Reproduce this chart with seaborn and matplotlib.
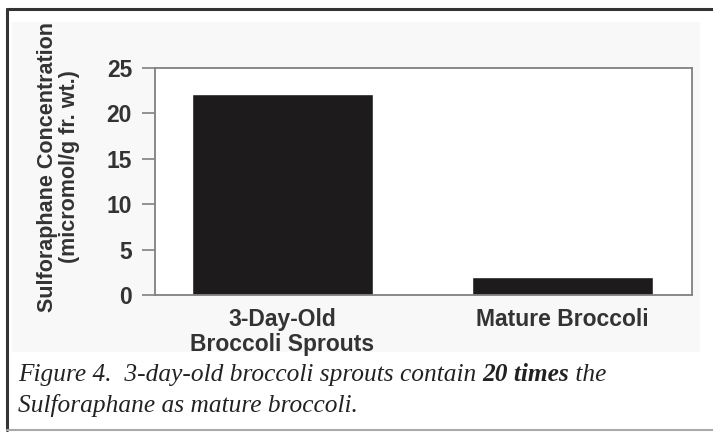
import matplotlib
matplotlib.use('Agg')
import matplotlib.pyplot as plt
from matplotlib.patches import Rectangle
from matplotlib.lines import Line2D
import pandas as pd
import seaborn as sns

categories = ['3-Day-Old\nBroccoli Sprouts', 'Mature Broccoli']
concentration = [22.1, 2.0]
y_ticks = [0, 5, 10, 15, 20, 25]
y_label = 'Sulforaphane Concentration\n(micromol/g fr. wt.)'
caption_parts = [
    ('Figure 4.  3-day-old broccoli sprouts contain ', 'normal'),
    ('20 times', 'bold'),
    (' the', 'normal'),
]
caption_line2 = 'Sulforaphane as mature broccoli.'

df = pd.DataFrame({'category': categories, 'value': concentration})

sns.set_style('white')
plt.rcParams['font.family'] = ['Liberation Sans', 'DejaVu Sans']

W, H = 713, 433
fig = plt.figure(figsize=(W / 100, H / 100), dpi=100)
fig.patch.set_facecolor('white')

# faint grey panel behind the chart
fig.add_artist(Rectangle((12 / W, 1 - 352 / H), 688 / W, 330 / H,
                         transform=fig.transFigure, facecolor='#f8f8f8',
                         edgecolor='none', zorder=0))
# frame lines
fig.add_artist(Line2D([7 / W, 1], [1 - 9 / H, 1 - 9 / H], transform=fig.transFigure,
                      color='#333333', lw=2.2))
fig.add_artist(Line2D([7 / W, 7 / W], [1 - 9 / H, 1 - 430 / H], transform=fig.transFigure,
                      color='#333333', lw=2.2))
fig.add_artist(Line2D([7 / W, 1], [1 - 430 / H, 1 - 430 / H], transform=fig.transFigure,
                      color='#aaaaaa', lw=1.5))

ax = fig.add_axes([155 / W, 1 - 295 / H, (692 - 155) / W, (295 - 68) / H])
ax.set_facecolor('white')
sns.barplot(data=df, x='category', y='value', color='#1d1b1b', width=0.646,
            saturation=1, ax=ax)

ax.set_xlim(-0.455, 1.464)
ax.set_ylim(0, 25)
ax.set_yticks(y_ticks)
ax.set_xlabel('')
ax.set_ylabel(y_label, fontsize=15.5, fontweight='bold', color='#333333',
              linespacing=1.05)
ax.yaxis.set_label_coords(-0.14, 0.565)
for s in ax.spines.values():
    s.set_visible(True)
    s.set_color('#808080')
    s.set_linewidth(1.3)
ax.tick_params(axis='y', left=True, length=9.5, width=1.2, color='#808080',
               labelsize=16.5, labelcolor='#333333', pad=7)
ax.tick_params(axis='x', bottom=False, labelsize=16.5, labelcolor='#333333', pad=6)
for lab in ax.get_xticklabels() + ax.get_yticklabels():
    lab.set_fontweight('bold')
for lab in ax.get_xticklabels():
    lab.set_linespacing(1.1)

cap_font = dict(family=['Liberation Serif', 'DejaVu Serif'], style='italic',
                fontsize=18.3, color='#222222')
fig.text(18 / W, 1 - 381 / H, caption_parts[0][0], va='baseline', **cap_font)
for txt, weight in caption_parts[1:]:
    fig.text(0, 0, txt, fontweight=weight, va='baseline', **cap_font)
fig.canvas.draw()
# chain the caption pieces horizontally
r = fig.canvas.get_renderer()
pieces = list(fig.texts)
x = pieces[0].get_window_extent(r).x1
y = pieces[0].get_position()[1]
for t in pieces[1:]:
    t.set_position((x / W, y))
    x = t.get_window_extent(r).x1
fig.text(18 / W, 1 - 412 / H, caption_line2, va='baseline', **cap_font)

fig.savefig('out.png', dpi=100)
